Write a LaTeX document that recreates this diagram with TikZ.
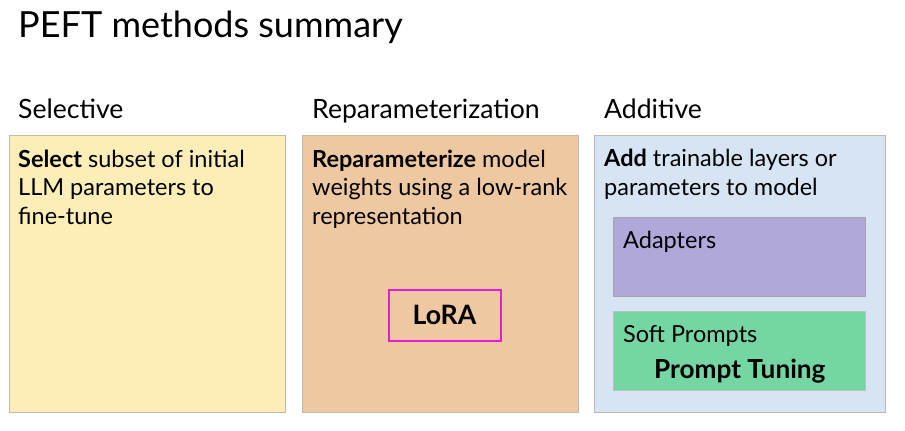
\documentclass[tikz,border=0pt]{standalone}
\usepackage{fontspec}
\setmainfont{Lato}
\usepackage{tikz}
\usetikzlibrary{positioning}
\definecolor{selfill}{HTML}{FDEDB6}
\definecolor{repfill}{HTML}{EDC8A0}
\definecolor{addfill}{HTML}{D6E4F4}
\definecolor{adafill}{HTML}{B0A8DA}
\definecolor{softfill}{HTML}{74D6A3}
\definecolor{boxline}{HTML}{BFBAB0}
\definecolor{lorapink}{HTML}{E81ADB}

\begin{document}
\begin{tikzpicture}[x=1pt,y=-1pt,
    panel/.style={draw=boxline,line width=0.8pt},
    head/.style={anchor=base west,inner sep=0,font=\fontsize{26.6}{30}\selectfont},
    body/.style={anchor=base west,inner sep=0,align=left,font=\fontsize{23.5}{28.5}\selectfont}]
            \useasboundingbox (0,0) rectangle (905,431);
            \node [anchor=base west,inner sep=0,font=\fontsize{36}{40}\selectfont] (title) at (18,37) {PEFT methods summary};

            % three panels
            \draw [panel,fill=selfill] (9,135) rectangle (285,412);
            \draw [panel,fill=repfill] (302,135) rectangle (578,412);
            \draw [panel,fill=addfill] (594,135) rectangle (885,412);

            \node [head] (selhead) at (18,118) {Selective};
            \node [head] (rephead) at (312,118) {Reparameterization};
            \node [head] (addhead) at (604,118) {Additive};

            % base of a multi-line node is its last line
            \node [body] (seltext) at (18,224) {\textbf{Select} subset of initial\\LLM parameters to\\fine-tune};
            \node [body] (reptext) at (312,224) {\textbf{Reparameterize} model\\weights using a low-rank\\representation};
            \node [body] (addtext) at (604,195) {\textbf{Add} trainable layers or\\parameters to model};

            % LoRA
            \node [draw=lorapink,line width=2pt,minimum width=112pt,minimum height=51pt,font=\bfseries\fontsize{26.7}{30}\selectfont] (lora) at (444.5,315) {LoRA};

            % additive sub-boxes
            \draw [panel,draw=gray!70,fill=adafill] (613,217) rectangle (865,296);
            \draw [panel,draw=gray!50,fill=softfill] (613,311) rectangle (865,390);
            \node [body] (adapters) at (623,248) {Adapters};
            \node [body] (soft) at (623,342) {Soft Prompts};
            \node [anchor=base west,inner sep=0,font=\bfseries\fontsize{26.2}{30}\selectfont] (tuning) at (654,378) {Prompt Tuning};
        \end{tikzpicture}
\end{document}
